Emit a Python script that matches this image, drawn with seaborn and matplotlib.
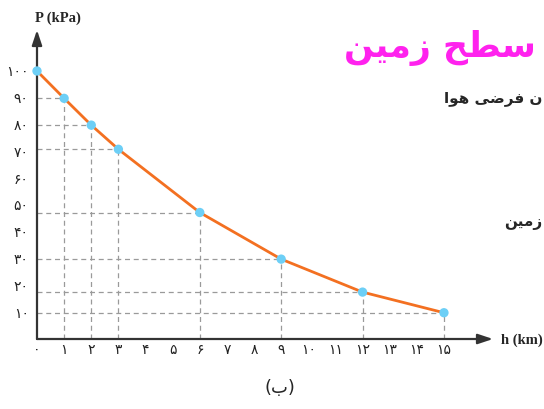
import numpy as np
import pandas as pd
import matplotlib
matplotlib.use("Agg")
import matplotlib.pyplot as plt
import seaborn as sns

# ارتفاع (km) و فشار (kPa)
h_km = [0, 1, 2, 3, 6, 9, 12, 15]
p_kpa = [100, 89.8, 79.8, 70.8, 47.2, 29.8, 17.5, 9.8]

x_ticks = list(range(0, 16))
y_ticks = list(range(10, 101, 10))
fa_digits = "۰۱۲۳۴۵۶۷۸۹"


def fa(n):
    return "".join(fa_digits[int(c)] for c in str(n))


# متن‌ها (شکل‌های نمایشی، ترتیب دیداری)
txt_pink = "\uFEE6\uFEF4\uFEE3\uFEAF \uFEA2\uFEC4\uFEB3"          # سطح زمین
txt_air = "\uFE8D\uFEEE\uFEEB \uFEF0\uFEBF\uFEAE\uFED3 \uFEE5"     # ن فرضی هوا
txt_ground = "\uFEE6\uFEF4\uFEE3\uFEAF"                             # زمین
txt_b = "(\uFE8F)"                                                  # (ب)

df = pd.DataFrame({"h": h_km, "P": p_kpa})

sns.set_style("white")
plt.rcParams["font.family"] = ["DejaVu Sans"]

fig = plt.figure(figsize=(5.44, 4.09), dpi=100)
W, H = 544, 409
x0, y0 = 37, 339
xpx, ypx = 27.13, 2.68
xmax = (493 - x0) / xpx
ymax = (y0 - 30) / ypx
ax = fig.add_axes([x0 / W, (H - y0) / H, (493 - x0) / W, (y0 - 30) / H])
ax.set_xlim(0, xmax)
ax.set_ylim(0, ymax)
for s in ax.spines.values():
    s.set_visible(False)

# خطوط راهنمای خط‌چین
for xv, yv in zip(h_km[1:], p_kpa[1:]):
    ax.plot([0, xv], [yv, yv], color="#9a9a9a", lw=0.9, ls=(0, (4, 3)), zorder=1)
    ax.plot([xv, xv], [0, yv], color="#9a9a9a", lw=0.9, ls=(0, (4, 3)), zorder=1)

sns.lineplot(data=df, x="h", y="P", ax=ax, color="#f37021", lw=2.0, zorder=3)
sns.scatterplot(data=df, x="h", y="P", ax=ax, color="#6dcff6", s=45,
                edgecolor="none", zorder=4, clip_on=False)

# محورها با پیکان
arrow = dict(arrowstyle="-|>,head_length=0.9,head_width=0.3",
             color="#333333", lw=1.6, shrinkA=0, shrinkB=0)
ax.annotate("", xy=(xmax, 0), xytext=(0, 0), arrowprops=arrow, annotation_clip=False)
ax.annotate("", xy=(0, ymax), xytext=(0, 0), arrowprops=arrow, annotation_clip=False)

ax.set_xticks(x_ticks)
ax.set_xticklabels([fa(v) for v in x_ticks], fontsize=10)
ax.set_yticks(y_ticks)
ax.set_yticklabels([fa(v) for v in y_ticks], fontsize=10)
ax.tick_params(axis="both", direction="in", length=4, width=1, color="#333333",
               labelcolor="#222222")
ax.tick_params(axis="x", pad=3)
ax.tick_params(axis="y", pad=6)
ax.set_xlabel("")
ax.set_ylabel("")

fig.text(35 / W, 1 - 18 / H, "P (kPa)", family="Liberation Serif", weight="bold",
         fontsize=10.5, ha="left", va="center")
fig.text(501 / W, 1 - 340 / H, "h (km)", family="Liberation Serif", weight="bold",
         fontsize=10.5, ha="left", va="center")
fig.text(280 / W, 1 - 388 / H, txt_b, fontsize=13, ha="center", va="center")
fig.text(542 / W, 1 - 99 / H, txt_air, fontsize=11, weight="bold", ha="right", va="center")
fig.text(542 / W, 1 - 223 / H, txt_ground, fontsize=11, weight="bold", ha="right", va="center")
fig.text(536 / W, 1 - 48 / H, txt_pink, fontsize=25, color="#ff22ee", ha="right",
         va="center", weight="bold")

fig.savefig("out.png", dpi=100)
